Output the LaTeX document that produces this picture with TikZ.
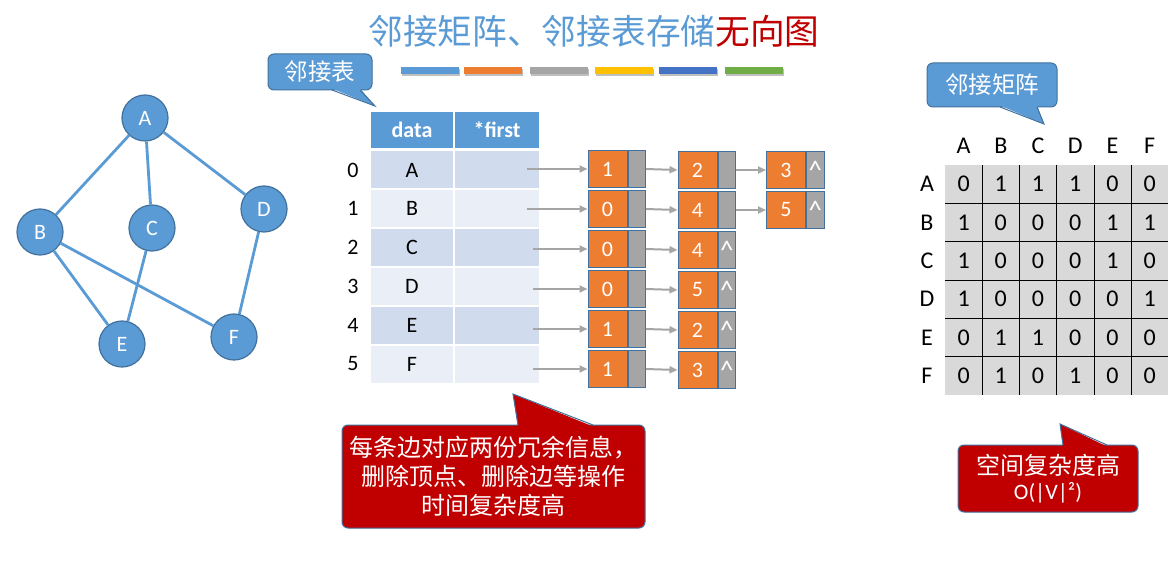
\documentclass[tikz,border=0pt]{standalone}
\usepackage{fontspec}
\setmainfont{Carlito}
\newfontfamily\cjk{Noto Sans CJK SC}
\usetikzlibrary{arrows.meta, positioning, calc, shadows}
\definecolor{pptblue}{RGB}{91, 155, 213}
\definecolor{pptedge}{RGB}{65, 113, 156}
\definecolor{pptorange}{RGB}{237, 125, 49}
\definecolor{pptgray}{RGB}{165, 165, 165}
\definecolor{pptyellow}{RGB}{255, 192, 0}
\definecolor{pptnavy}{RGB}{68, 114, 196}
\definecolor{pptgreen}{RGB}{112, 173, 71}
\definecolor{pptred}{RGB}{192, 0, 0}
\definecolor{rowdark}{RGB}{208, 220, 238}
\definecolor{rowlight}{RGB}{233, 238, 247}
\definecolor{matgray}{RGB}{217, 217, 217}

\begin{document}
\begin{tikzpicture}[
  x=1pt, y=-1pt,
  vtx/.style={circle, draw=pptedge, line width=1.2pt, fill=pptblue, minimum size=46pt, inner sep=0pt, text=white, font=\fontsize{22}{26}\selectfont},
  gline/.style={draw=pptblue, line width=2.8pt},
  hcell/.style={rectangle, fill=pptblue, minimum height=36pt, inner sep=0pt, text=white, font=\bfseries\fontsize{22}{26}\selectfont},
  rowd/.style={rectangle, fill=rowdark, minimum height=37pt, inner sep=0pt, font=\fontsize{22}{26}\selectfont},
  rowl/.style={rowd, fill=rowlight},
  idx/.style={inner sep=0pt, font=\fontsize{22}{26}\selectfont},
  elem/.style={rectangle, draw=pptedge, line width=1pt, fill=pptorange, minimum width=39pt, minimum height=37pt, inner sep=0pt, text=white, font=\fontsize{22}{26}\selectfont},
  ptr/.style={elem, fill=pptgray, minimum width=17.5pt, font=\fontsize{27}{30}\selectfont},
  nxt/.style={-{Triangle[length=8pt, width=7pt]}, draw=pptgray, line width=2pt},
  bar/.style={rectangle, minimum width=58pt, minimum height=6.7pt, inner sep=0pt, drop shadow={shadow xshift=0.6pt, shadow yshift=-1.8pt, fill=black, opacity=0.25}},
  mcell/.style={rectangle, fill=matgray, minimum width=37.2pt, minimum height=38.3pt, inner sep=0pt, font=\fontsize{24}{28}\selectfont},
  mlabel/.style={inner sep=0pt, font=\fontsize{24}{28}\selectfont},
  gridln/.style={draw=black, line width=0.9pt},
  tag/.style={rectangle, rounded corners=6pt, draw=pptedge, line width=1pt, fill=pptblue, text=white, inner sep=0pt, outer sep=0pt, font=\cjk\fontsize{23.5}{28}\selectfont},
  redtag/.style={tag, fill=pptred, align=center, font=\cjk\fontsize{24}{29}\selectfont},
  wedge/.style={draw=pptedge, line width=1pt, line join=miter}
]

  \fill[white] (0,0) rectangle (1170,585);
  \useasboundingbox (0,0) rectangle (1170,585);

  \node[inner sep=0pt, font=\cjk\fontsize{34.7}{40}\selectfont] (title) at (594,31) {\textcolor{pptblue}{邻接矩阵、邻接表存储}\textcolor{pptred}{无向图}};

  \node[bar, fill=pptblue] (bar1) at (429.9,70.7) {};
  \node[bar, fill=pptorange] (bar2) at (493,70.7) {};
  \node[bar, fill=pptgray] (bar3) at (559,70.7) {};
  \node[bar, fill=pptyellow] (bar4) at (623.9,70.7) {};
  \node[bar, fill=pptnavy] (bar5) at (687.9,70.7) {};
  \node[bar, fill=pptgreen] (bar6) at (753.9,70.7) {};

  \node[vtx] (vA) at (145,118) {A};
  \node[vtx] (vB) at (40,232) {B};
  \node[vtx] (vC) at (152,228) {C};
  \node[vtx] (vD) at (264,209) {D};
  \node[vtx] (vE) at (122,344) {E};
  \node[vtx] (vF) at (234,337) {F};

  \draw[gline] (vA) -- (vB);
  \draw[gline] (vA) -- (vC);
  \draw[gline] (vA) -- (vD);
  \draw[gline] (vB) -- (vE);
  \draw[gline] (vB) -- (vF);
  \draw[gline] (vC) -- (vE);
  \draw[gline] (vD) -- (vF);

  \node[tag, minimum width=104pt, minimum height=36pt] (tagl) at (320,72) {邻接表};
  \fill[pptblue] ($(tagl.south west)+(64,-1.5)$) -- (375,106) -- ($(tagl.south west)+(92,-1.5)$) -- cycle;
  \draw[wedge] ($(tagl.south west)+(64,0)$) -- (375,106) -- ($(tagl.south west)+(92,0)$);

  \node[hcell, minimum width=82pt] (hd) at (412,130) {data};
  \node[hcell, minimum width=84pt] (hf) at (497,130) {*first};

  \node[rowd, minimum width=82pt] (d0) at (412,170) {A};
  \node[rowd, minimum width=84pt] (f0) at (497,170) {};
  \node[rowl, minimum width=82pt] (d1) at (412,208.8) {B};
  \node[rowl, minimum width=84pt] (f1) at (497,208.8) {};
  \node[rowd, minimum width=82pt] (d2) at (412,247.6) {C};
  \node[rowd, minimum width=84pt] (f2) at (497,247.6) {};
  \node[rowl, minimum width=82pt] (d3) at (412,286.4) {D};
  \node[rowl, minimum width=84pt] (f3) at (497,286.4) {};
  \node[rowd, minimum width=82pt] (d4) at (412,325.2) {E};
  \node[rowd, minimum width=84pt] (f4) at (497,325.2) {};
  \node[rowl, minimum width=82pt] (d5) at (412,364) {F};
  \node[rowl, minimum width=84pt] (f5) at (497,364) {};

  \node[idx] (i0) at (353,170) {0};
  \node[idx] (i1) at (353,208.8) {1};
  \node[idx] (i2) at (353,247.6) {2};
  \node[idx] (i3) at (353,286.4) {3};
  \node[idx] (i4) at (353,325.2) {4};
  \node[idx] (i5) at (353,364) {5};

  \node[elem] (e01) at (607.5,169) {1};
  \node[ptr, right=0pt of e01] (p01) {};
  \node[elem] (e02) at (697.5,170) {2};
  \node[ptr, right=0pt of e02] (p02) {};
  \node[elem] (e03) at (786,170) {3};
  \node[ptr, right=0pt of e03] (p03) {\textasciicircum};

  \node[elem] (e11) at (607.5,209) {0};
  \node[ptr, right=0pt of e11] (p11) {};
  \node[elem] (e12) at (697.5,210) {4};
  \node[ptr, right=0pt of e12] (p12) {};
  \node[elem] (e13) at (786,210) {5};
  \node[ptr, right=0pt of e13] (p13) {\textasciicircum};

  \node[elem] (e21) at (607.5,249) {0};
  \node[ptr, right=0pt of e21] (p21) {};
  \node[elem] (e22) at (697.5,250) {4};
  \node[ptr, right=0pt of e22] (p22) {\textasciicircum};

  \node[elem] (e31) at (607.5,289) {0};
  \node[ptr, right=0pt of e31] (p31) {};
  \node[elem] (e32) at (697.5,290) {5};
  \node[ptr, right=0pt of e32] (p32) {\textasciicircum};

  \node[elem] (e41) at (607.5,329) {1};
  \node[ptr, right=0pt of e41] (p41) {};
  \node[elem] (e42) at (697.5,330) {2};
  \node[ptr, right=0pt of e42] (p42) {\textasciicircum};

  \node[elem] (e51) at (607.5,369) {1};
  \node[ptr, right=0pt of e51] (p51) {};
  \node[elem] (e52) at (697.5,370) {3};
  \node[ptr, right=0pt of e52] (p52) {\textasciicircum};

  \coordinate (s0) at (527,169);
  \coordinate (s1) at (527,209);
  \coordinate (s2) at (533,249);
  \coordinate (s3) at (533,289);
  \coordinate (s4) at (533,329);
  \coordinate (s5) at (533,369);

  \draw[nxt] (s0) -- (e01.west);
  \draw[nxt] (s1) -- (e11.west);
  \draw[nxt] (s2) -- (e21.west);
  \draw[nxt] (s3) -- (e31.west);
  \draw[nxt] (s4) -- (e41.west);
  \draw[nxt] (s5) -- (e51.west);
  \draw[nxt] (p01.east) -- (e02.west);
  \draw[nxt] (p02.east) -- (e03.west);
  \draw[nxt] (p11.east) -- (e12.west);
  \draw[nxt] (p12.east) -- (e13.west);
  \draw[nxt] (p21.east) -- (e22.west);
  \draw[nxt] (p31.east) -- (e32.west);
  \draw[nxt] (p41.east) -- (e42.west);
  \draw[nxt] (p51.east) -- (e52.west);

  \node[redtag, minimum width=303pt, minimum height=103pt] (notel) at (493.5,476.5) {每条边对应两份冗余信息，\\删除顶点、删除边等操作\\时间复杂度高};
  \fill[pptred] ($(notel.north west)+(176,1.5)$) -- (513,394) -- ($(notel.north west)+(251,1.5)$) -- cycle;
  \draw[wedge] ($(notel.north west)+(176,0)$) -- (513,394) -- ($(notel.north west)+(251,0)$);

  \node[tag, minimum width=130pt, minimum height=44pt] (tagm) at (992,85) {邻接矩阵};
  \fill[pptblue] ($(tagm.south west)+(73,-1.5)$) -- (1044,124) -- ($(tagm.south west)+(110,-1.5)$) -- cycle;
  \draw[wedge] ($(tagm.south west)+(73,0)$) -- (1044,124) -- ($(tagm.south west)+(110,0)$);

  \foreach \row [count=\r] in {{0,1,1,1,0,0},{1,0,0,0,1,1},{1,0,0,0,1,0},{1,0,0,0,0,1},{0,1,1,0,0,0},{0,1,0,1,0,0}}
    \foreach \v [count=\c] in \row
      \node[mcell] (m\r\c) at ({945+37.2*(\c-0.5)},{165+38.3*(\r-0.5)}) {\v};
  \foreach \c in {1,...,5}
    \draw[gridln] (m1\c.north east) -- (m6\c.south east);
  \foreach \r in {1,...,5}
    \draw[gridln] (m\r1.south west) -- (m\r6.south east);
  \foreach \l [count=\c] in {A,B,C,D,E,F} {
    \node[mlabel] (col\l) at ({945+37.2*(\c-0.5)},146) {\l};
    \node[mlabel] (row\l) at (927,{165+38.3*(\c-0.5)}) {\l};
  }

  \node[redtag, minimum width=180pt, minimum height=67pt, font=\cjk\fontsize{24}{25}\selectfont] (notem) at (1048,478.5) {空间复杂度高\\{\rmfamily\fontsize{22}{25}\selectfont O(|V|²)}};
  \fill[pptred] ($(notem.north west)+(105,1.5)$) -- (1060,424) -- ($(notem.north west)+(149,1.5)$) -- cycle;
  \draw[wedge] ($(notem.north west)+(105,0)$) -- (1060,424) -- ($(notem.north west)+(149,0)$);

\end{tikzpicture}
\end{document}
